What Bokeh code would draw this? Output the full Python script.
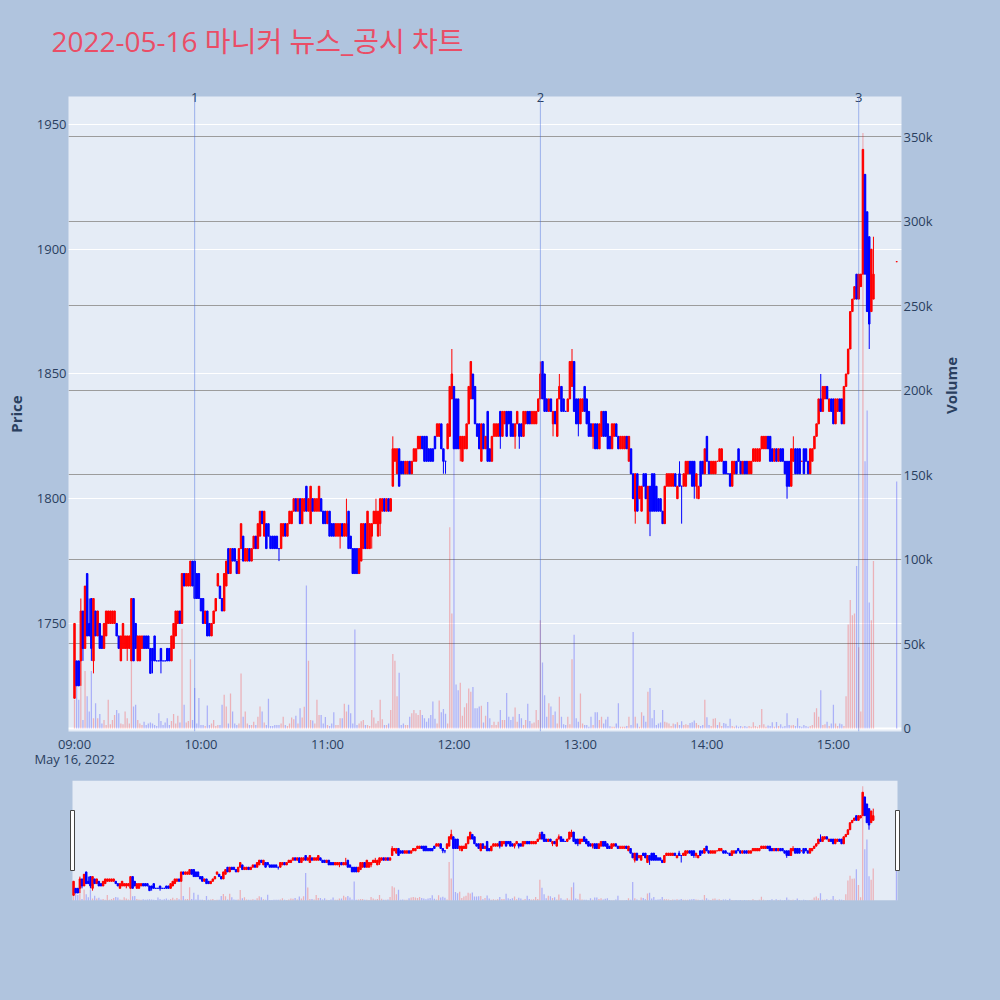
import math
from bokeh.plotting import figure
from bokeh.models import (Range1d, LinearAxis, FixedTicker, ColumnDataSource, Span,
                          BoxAnnotation, Grid)
from bokeh.layouts import column
from bokeh.embed import file_html
from bokeh.resources import INLINE

# ---------------- data ----------------
title_text = "2022-05-16 마니커 뉴스_공시 차트"
date_text = "May 16, 2022"
hour_labels = ["09:00", "10:00", "11:00", "12:00", "13:00", "14:00", "15:00"]
price_ticks = [1750, 1800, 1850, 1900, 1950]
volume_ticks = [0, 50000, 100000, 150000, 200000, 250000, 300000, 350000]
volume_tick_labels = ["0", "50k", "100k", "150k", "200k", "250k", "300k", "350k"]
news_times = ["09:57", "12:41", "15:12"]
news_labels = ["1", "2", "3"]
first_bar = "09:00"
last_continuous_bar = "15:19"
closing_bar = "15:30"

open_ = [
    1720, 1735, 1735, 1735, 1755, 1740, 1770, 1750, 1760, 1735,
    1755, 1745, 1750, 1745, 1740, 1745, 1750, 1750, 1750, 1750,
    1750, 1745, 1735, 1740, 1740, 1740, 1740, 1735, 1760, 1750,
    1735, 1735, 1740, 1745, 1745, 1745, 1740, 1740, 1745, 1735,
    1735, 1740, 1735, 1735, 1740, 1740, 1735, 1740, 1745, 1750,
    1755, 1750, 1770, 1765, 1765, 1765, 1775, 1775, 1770, 1770,
    1760, 1760, 1750, 1755, 1750, 1745, 1750, 1755, 1765, 1765,
    1760, 1755, 1765, 1780, 1770, 1780, 1780, 1775, 1770, 1780,
    1785, 1775, 1775, 1780, 1775, 1780, 1785, 1780, 1785, 1795,
    1785, 1790, 1790, 1785, 1785, 1785, 1785, 1780, 1780, 1785,
    1790, 1785, 1790, 1790, 1795, 1800, 1795, 1800, 1790, 1795,
    1805, 1795, 1790, 1800, 1795, 1795, 1795, 1800, 1795, 1795,
    1790, 1795, 1790, 1790, 1785, 1785, 1785, 1790, 1785, 1785,
    1795, 1785, 1780, 1780, 1780, 1770, 1775, 1780, 1790, 1780,
    1780, 1785, 1790, 1790, 1785, 1790, 1795, 1800, 1795, 1800,
    1795, 1805, 1815, 1810, 1820, 1815, 1815, 1810, 1810, 1815,
    1810, 1815, 1815, 1820, 1820, 1825, 1825, 1825, 1820, 1820,
    1820, 1825, 1825, 1825, 1830, 1820, 1815, 1820, 1825, 1840,
    1845, 1840, 1840, 1820, 1815, 1820, 1820, 1830, 1840, 1850,
    1845, 1830, 1830, 1815, 1830, 1820, 1835, 1820, 1815, 1825,
    1825, 1825, 1835, 1825, 1830, 1835, 1835, 1835, 1830, 1825,
    1830, 1830, 1830, 1825, 1830, 1835, 1835, 1830, 1830, 1830,
    1835, 1840, 1855, 1850, 1840, 1835, 1840, 1830, 1835, 1825,
    1840, 1845, 1840, 1835, 1835, 1840, 1845, 1855, 1840, 1840,
    1830, 1835, 1845, 1840, 1835, 1830, 1825, 1830, 1830, 1820,
    1825, 1835, 1835, 1830, 1825, 1820, 1825, 1830, 1825, 1820,
    1820, 1820, 1825, 1815, 1820, 1810, 1795, 1810, 1800, 1795,
    1810, 1810, 1790, 1805, 1810, 1810, 1805, 1800, 1800, 1795,
    1790, 1805, 1805, 1805, 1805, 1810, 1800, 1810, 1805, 1805,
    1805, 1810, 1815, 1815, 1815, 1805, 1800, 1815, 1815, 1810,
    1825, 1815, 1810, 1810, 1810, 1815, 1815, 1815, 1815, 1815,
    1810, 1810, 1805, 1810, 1815, 1820, 1815, 1810, 1815, 1815,
    1810, 1810, 1815, 1815, 1815, 1815, 1820, 1820, 1820, 1825,
    1825, 1820, 1815, 1820, 1815, 1820, 1820, 1815, 1815, 1815,
    1805, 1815, 1820, 1820, 1820, 1815, 1820, 1820, 1815, 1810,
    1815, 1820, 1825, 1830, 1840, 1835, 1840, 1845, 1835, 1840,
    1840, 1830, 1835, 1840, 1840, 1830, 1845, 1850, 1860, 1875,
    1880, 1890, 1880, 1885, 1890, 1930, 1915, 1905, 1875, 1880,
    1895,
]

high = [
    1750, 1735, 1735, 1760, 1755, 1765, 1770, 1760, 1760, 1760,
    1755, 1755, 1750, 1745, 1750, 1755, 1755, 1755, 1755, 1755,
    1750, 1745, 1745, 1750, 1745, 1745, 1745, 1760, 1760, 1750,
    1745, 1745, 1745, 1745, 1745, 1745, 1740, 1740, 1745, 1735,
    1735, 1740, 1735, 1735, 1740, 1740, 1745, 1750, 1755, 1755,
    1755, 1770, 1770, 1770, 1770, 1775, 1775, 1775, 1770, 1770,
    1760, 1760, 1755, 1755, 1750, 1750, 1755, 1760, 1770, 1765,
    1760, 1770, 1775, 1780, 1780, 1780, 1780, 1775, 1780, 1790,
    1785, 1780, 1780, 1780, 1780, 1785, 1785, 1790, 1795, 1795,
    1795, 1790, 1790, 1785, 1785, 1785, 1785, 1780, 1790, 1790,
    1790, 1790, 1795, 1795, 1800, 1800, 1800, 1800, 1800, 1800,
    1805, 1800, 1805, 1800, 1800, 1800, 1805, 1800, 1795, 1795,
    1795, 1795, 1790, 1790, 1790, 1790, 1790, 1790, 1790, 1800,
    1795, 1785, 1780, 1780, 1780, 1780, 1790, 1790, 1790, 1795,
    1790, 1790, 1795, 1800, 1795, 1800, 1800, 1800, 1800, 1800,
    1800, 1825, 1820, 1820, 1820, 1815, 1815, 1815, 1815, 1815,
    1815, 1820, 1820, 1825, 1825, 1825, 1825, 1825, 1820, 1820,
    1820, 1825, 1830, 1830, 1830, 1820, 1815, 1830, 1845, 1860,
    1845, 1840, 1840, 1825, 1825, 1825, 1830, 1845, 1855, 1850,
    1845, 1830, 1830, 1830, 1830, 1825, 1835, 1820, 1825, 1830,
    1830, 1830, 1835, 1835, 1835, 1835, 1835, 1835, 1830, 1830,
    1835, 1830, 1830, 1835, 1835, 1835, 1835, 1835, 1835, 1835,
    1840, 1855, 1855, 1850, 1840, 1840, 1840, 1835, 1835, 1840,
    1850, 1845, 1840, 1835, 1840, 1855, 1860, 1855, 1840, 1840,
    1840, 1840, 1845, 1840, 1835, 1830, 1830, 1830, 1830, 1830,
    1835, 1835, 1835, 1830, 1825, 1830, 1830, 1830, 1825, 1825,
    1825, 1825, 1825, 1825, 1820, 1810, 1810, 1810, 1805, 1805,
    1810, 1810, 1805, 1805, 1810, 1810, 1805, 1800, 1800, 1795,
    1805, 1810, 1810, 1810, 1810, 1810, 1805, 1815, 1805, 1810,
    1815, 1815, 1815, 1815, 1815, 1810, 1805, 1815, 1815, 1820,
    1825, 1815, 1815, 1815, 1815, 1815, 1820, 1820, 1815, 1815,
    1810, 1810, 1815, 1815, 1815, 1820, 1815, 1815, 1815, 1815,
    1815, 1815, 1820, 1820, 1820, 1820, 1825, 1825, 1825, 1825,
    1825, 1820, 1820, 1820, 1820, 1820, 1820, 1815, 1815, 1815,
    1820, 1825, 1820, 1820, 1820, 1815, 1820, 1820, 1815, 1820,
    1820, 1825, 1830, 1840, 1850, 1845, 1845, 1845, 1840, 1840,
    1840, 1840, 1840, 1840, 1840, 1845, 1850, 1860, 1875, 1880,
    1885, 1890, 1890, 1890, 1940, 1930, 1915, 1905, 1900, 1905,
    1895,
]

low = [
    1720, 1725, 1725, 1725, 1735, 1740, 1745, 1745, 1735, 1730,
    1745, 1745, 1740, 1740, 1740, 1745, 1750, 1750, 1750, 1750,
    1745, 1740, 1735, 1740, 1740, 1735, 1740, 1735, 1735, 1740,
    1735, 1735, 1740, 1740, 1740, 1740, 1730, 1730, 1735, 1735,
    1735, 1730, 1735, 1735, 1735, 1735, 1735, 1740, 1745, 1750,
    1750, 1750, 1765, 1765, 1765, 1765, 1765, 1760, 1760, 1760,
    1755, 1750, 1750, 1745, 1745, 1745, 1750, 1755, 1765, 1760,
    1755, 1755, 1765, 1770, 1770, 1775, 1775, 1770, 1770, 1780,
    1775, 1775, 1775, 1775, 1775, 1780, 1780, 1780, 1785, 1790,
    1785, 1780, 1785, 1780, 1780, 1780, 1780, 1775, 1780, 1785,
    1785, 1785, 1790, 1790, 1795, 1795, 1795, 1790, 1790, 1795,
    1795, 1795, 1790, 1795, 1795, 1795, 1795, 1795, 1790, 1790,
    1790, 1785, 1785, 1785, 1785, 1785, 1780, 1785, 1785, 1785,
    1780, 1780, 1770, 1770, 1770, 1770, 1775, 1780, 1780, 1780,
    1780, 1780, 1790, 1790, 1785, 1785, 1795, 1795, 1795, 1795,
    1795, 1805, 1815, 1810, 1805, 1810, 1810, 1810, 1810, 1810,
    1810, 1815, 1815, 1820, 1820, 1820, 1815, 1815, 1815, 1815,
    1815, 1820, 1825, 1825, 1820, 1810, 1810, 1820, 1825, 1840,
    1820, 1820, 1820, 1815, 1815, 1820, 1820, 1830, 1840, 1840,
    1830, 1825, 1820, 1815, 1820, 1820, 1815, 1815, 1815, 1825,
    1825, 1825, 1820, 1825, 1830, 1825, 1830, 1825, 1825, 1820,
    1830, 1820, 1825, 1825, 1830, 1830, 1830, 1830, 1830, 1830,
    1835, 1840, 1840, 1835, 1835, 1835, 1835, 1825, 1830, 1825,
    1840, 1835, 1835, 1835, 1835, 1840, 1845, 1835, 1830, 1825,
    1830, 1835, 1835, 1830, 1825, 1825, 1820, 1820, 1820, 1820,
    1825, 1825, 1825, 1820, 1820, 1820, 1825, 1825, 1820, 1820,
    1820, 1820, 1820, 1815, 1810, 1800, 1790, 1795, 1800, 1795,
    1805, 1800, 1790, 1785, 1795, 1795, 1795, 1795, 1795, 1790,
    1790, 1805, 1805, 1805, 1805, 1805, 1800, 1805, 1790, 1805,
    1805, 1810, 1810, 1805, 1800, 1800, 1800, 1805, 1810, 1810,
    1815, 1810, 1810, 1810, 1810, 1815, 1815, 1815, 1810, 1810,
    1810, 1805, 1805, 1810, 1810, 1815, 1810, 1810, 1810, 1810,
    1810, 1810, 1815, 1815, 1815, 1815, 1820, 1820, 1820, 1820,
    1815, 1815, 1815, 1815, 1815, 1815, 1815, 1810, 1800, 1805,
    1805, 1815, 1810, 1810, 1810, 1815, 1810, 1815, 1810, 1810,
    1815, 1820, 1825, 1830, 1835, 1835, 1840, 1840, 1835, 1835,
    1830, 1830, 1835, 1835, 1830, 1830, 1845, 1850, 1860, 1875,
    1880, 1880, 1880, 1885, 1890, 1890, 1875, 1860, 1875, 1880,
    1895,
]

close = [
    1750, 1725, 1725, 1755, 1740, 1765, 1745, 1745, 1740, 1760,
    1745, 1755, 1740, 1740, 1750, 1755, 1755, 1755, 1755, 1755,
    1745, 1740, 1745, 1750, 1745, 1745, 1745, 1760, 1735, 1740,
    1745, 1745, 1745, 1740, 1740, 1740, 1730, 1735, 1735, 1735,
    1735, 1735, 1735, 1735, 1735, 1735, 1745, 1750, 1755, 1755,
    1750, 1770, 1765, 1770, 1770, 1775, 1765, 1760, 1760, 1760,
    1755, 1750, 1755, 1745, 1745, 1750, 1755, 1760, 1770, 1760,
    1755, 1770, 1775, 1770, 1780, 1775, 1775, 1770, 1780, 1790,
    1775, 1780, 1780, 1775, 1780, 1785, 1780, 1790, 1795, 1790,
    1795, 1780, 1785, 1780, 1780, 1780, 1780, 1780, 1790, 1790,
    1785, 1790, 1795, 1795, 1800, 1795, 1800, 1790, 1800, 1800,
    1795, 1800, 1805, 1795, 1800, 1800, 1805, 1795, 1790, 1790,
    1795, 1785, 1785, 1785, 1790, 1790, 1790, 1785, 1790, 1790,
    1780, 1780, 1770, 1770, 1770, 1780, 1790, 1790, 1780, 1795,
    1790, 1790, 1795, 1795, 1795, 1800, 1800, 1795, 1800, 1795,
    1800, 1820, 1820, 1820, 1805, 1810, 1810, 1815, 1815, 1810,
    1815, 1820, 1820, 1825, 1825, 1820, 1815, 1815, 1815, 1815,
    1815, 1820, 1830, 1830, 1820, 1815, 1815, 1830, 1845, 1850,
    1820, 1820, 1820, 1825, 1825, 1825, 1830, 1845, 1855, 1840,
    1830, 1825, 1820, 1830, 1820, 1825, 1815, 1815, 1825, 1830,
    1830, 1830, 1825, 1835, 1835, 1825, 1830, 1825, 1825, 1830,
    1835, 1825, 1825, 1835, 1835, 1830, 1830, 1835, 1835, 1835,
    1840, 1850, 1840, 1835, 1835, 1840, 1835, 1835, 1830, 1840,
    1845, 1835, 1835, 1835, 1840, 1855, 1855, 1835, 1830, 1830,
    1840, 1840, 1835, 1830, 1825, 1825, 1830, 1820, 1820, 1830,
    1835, 1825, 1825, 1820, 1820, 1830, 1830, 1825, 1820, 1825,
    1825, 1825, 1820, 1825, 1810, 1800, 1810, 1795, 1805, 1805,
    1805, 1800, 1805, 1795, 1795, 1795, 1795, 1795, 1795, 1790,
    1805, 1810, 1810, 1810, 1810, 1805, 1805, 1805, 1805, 1810,
    1815, 1815, 1810, 1805, 1805, 1810, 1805, 1805, 1810, 1820,
    1815, 1810, 1815, 1815, 1815, 1815, 1820, 1820, 1810, 1810,
    1810, 1805, 1815, 1815, 1810, 1815, 1810, 1815, 1810, 1810,
    1815, 1815, 1820, 1820, 1820, 1820, 1825, 1825, 1825, 1820,
    1815, 1815, 1820, 1815, 1820, 1815, 1815, 1810, 1805, 1805,
    1820, 1820, 1810, 1810, 1810, 1815, 1810, 1815, 1810, 1820,
    1820, 1825, 1830, 1840, 1835, 1845, 1845, 1840, 1840, 1835,
    1830, 1840, 1840, 1835, 1830, 1845, 1850, 1860, 1875, 1880,
    1885, 1880, 1890, 1890, 1940, 1890, 1875, 1870, 1900, 1890,
    1895,
]

volume_k = [
    17, 25, 17, 44, 5, 34, 19, 10, 34, 6,
    15, 6, 8.5, 3, 5, 2, 17, 2.5, 5, 8,
    11, 9, 3, 2.5, 10, 6, 3, 42, 13, 14,
    5, 3, 2, 4, 2, 3, 3.5, 3, 2, 1.5,
    9, 4.5, 2, 3.5, 6, 2, 4.5, 8.5, 3, 7.5,
    3.5, 59, 14, 3.5, 4.5, 41, 5, 24, 3, 18,
    2, 2, 1.5, 13.6, 2, 3, 5, 1.5, 2, 2,
    14, 20, 13, 3, 20.7, 10, 3, 2, 3, 32.5,
    7, 10, 3, 2, 2, 4, 2, 7, 13, 10,
    3.5, 2, 17.6, 1.5, 1.5, 2, 2, 2, 3, 7,
    2, 1.5, 3, 6.5, 5.5, 7.5, 3, 12, 6.5, 12.8,
    84.5, 40, 5, 4.7, 3, 17, 8, 8, 3, 6.8,
    2, 1.5, 3, 9.6, 2, 2, 6, 6, 14.6, 10,
    14, 9, 3, 58.5, 2, 3, 4.3, 5, 2, 2,
    1.5, 11, 6.5, 3, 4.5, 17, 5.5, 2, 2, 3,
    11, 44, 40, 19, 33, 2, 3, 2, 2, 7,
    9, 11, 9, 8, 11, 8, 6, 4, 6, 8,
    16, 5.7, 3, 16.5, 9.6, 11.6, 8.7, 3, 119, 68,
    177, 26, 22.6, 27, 7.5, 12.5, 15, 23.6, 21.7, 24.6,
    12, 12, 13, 13.5, 3.5, 7.5, 15.6, 6, 2, 4,
    2, 4, 11, 5, 5, 21, 7, 5, 7, 12.4,
    4, 8.5, 6, 2, 5, 14.6, 4.5, 3, 3.5, 11,
    5, 64, 39, 19.6, 7, 15, 13, 8, 10, 3,
    18.7, 7, 2.5, 2, 7, 2.5, 41, 55.5, 6, 4,
    20.7, 3, 2, 2, 1, 7, 2, 9.6, 9.6, 5,
    7, 3, 5.3, 7, 1.4, 1, 1, 3, 15, 1,
    1, 1, 1.5, 7, 2, 57, 7, 3, 1, 9.6,
    7.5, 4, 21.7, 24, 6, 11, 2, 3, 3.5, 11,
    4, 3.5, 3, 1.5, 3, 2.5, 3.7, 2, 4.3, 2,
    2.5, 2, 3.2, 3.7, 4.7, 3.2, 2, 1.5, 2, 17,
    6.7, 2, 1.5, 5.7, 6, 2, 3.7, 1.5, 3.2, 2.8,
    1.5, 5.7, 1.5, 1, 1.8, 1, 1.5, 1, 1.5, 1,
    1.5, 1, 3.7, 1.5, 1, 2, 11.6, 2.5, 1, 1.8,
    1.5, 3.7, 1, 3.9, 1.5, 2.5, 1, 1.5, 9, 2,
    1.8, 2, 1.5, 6, 1.5, 1, 2, 1.5, 1, 1.5,
    2, 9.6, 12, 7, 22.6, 2, 2.5, 4, 1.5, 3,
    14, 3, 1.5, 3, 2.5, 1.5, 19, 61.5, 76, 67,
    68, 96, 48, 10, 352, 158, 188, 74.5, 64, 99,
    146,
]

# ---------------- style ----------------
PAGE_BG = "#b0c4de"
PLOT_BG = "#e5ecf6"
FONT_COLOR = "#2a3f5f"
TITLE_COLOR = "#ea4d66"
UP = "#ff0000"
DOWN = "#0000ff"
W = 1000
BL, BR = 68, 99          # left / right borders (frame spans 68..901)


def to_min(t):
    h, m = t.split(":")
    return (int(h) - 9) * 60 + int(m)


minutes = list(range(to_min(first_bar), to_min(last_continuous_bar) + 1)) + [to_min(closing_bar)]
assert len(minutes) == len(open_) == len(high) == len(low) == len(close) == len(volume_k), \
    (len(minutes), len(open_), len(high), len(low), len(close), len(volume_k))

# candle direction (plotly rule: equal open/close -> compare with previous close)
inc = []
state = True
prev_c = None
for o, c in zip(open_, close):
    if c != o:
        state = c > o
    elif prev_c is not None and c != prev_c:
        state = c > prev_c
    inc.append(state)
    prev_c = c

src = ColumnDataSource(dict(
    x=minutes, o=open_, h=high, l=low, c=close,
    top=[max(o, c) for o, c in zip(open_, close)],
    bot=[min(o, c) for o, c in zip(open_, close)],
    color=[UP if u else DOWN for u in inc],
    vol=[v * 1000 for v in volume_k],
    vcolor=[UP if c > o else DOWN for o, c in zip(open_, close)],
))

# ---------------- header (title) ----------------
HEAD_H = 82
head = figure(width=W, height=HEAD_H, title=title_text,
              output_backend="svg", toolbar_location=None,
              min_border_left=BL, min_border_right=BR, min_border_top=0, min_border_bottom=0,
              x_axis_location=None, y_axis_location=None,
              background_fill_color=PAGE_BG, border_fill_color=PAGE_BG, outline_line_color=None)
head.grid.visible = False
head.title.align = "left"
head.title.offset = -17
head.title.standoff = 38
head.title.text_font = "Open Sans, Noto Sans CJK KR"
head.title.text_font_size = "28px"
head.title.text_font_style = "normal"
head.title.text_color = TITLE_COLOR

# ---------------- main chart ----------------
p = figure(width=W, height=778 - HEAD_H, x_range=Range1d(-2.85, 392.3),
           y_range=Range1d(1706.7, 1961.2),
           output_backend="svg", toolbar_location=None,
           min_border_left=BL, min_border_right=BR, min_border_top=96 - HEAD_H,
           min_border_bottom=47,
           background_fill_color=PLOT_BG, border_fill_color=PAGE_BG, outline_line_color=None)
p.extra_y_ranges = {"vol": Range1d(-1774, 373650)}
xax = p.xaxis[0]
yax = p.yaxis[0]

vax = LinearAxis(y_range_name="vol", ticker=FixedTicker(ticks=volume_ticks),
                 major_label_overrides=dict(zip(volume_ticks, volume_tick_labels)))
p.add_layout(vax, "right")

nax = LinearAxis(ticker=FixedTicker(ticks=[to_min(t) for t in news_times]),
                 major_label_overrides={to_min(t): lab for t, lab in zip(news_times, news_labels)})
p.add_layout(nax, "above")

x_over = {to_min(h): h for h in hour_labels}
x_over[to_min(first_bar)] = first_bar + "\n" + date_text
xax.ticker = FixedTicker(ticks=[to_min(h) for h in hour_labels])
xax.major_label_overrides = x_over
xax.major_label_text_line_height = 0.85
yax.ticker = FixedTicker(ticks=price_ticks)

for ax in [xax, yax, vax, nax]:
    ax.axis_line_color = None
    ax.major_tick_line_color = None
    ax.minor_tick_line_color = None
    ax.major_tick_out = 0
    ax.major_tick_in = 0
    ax.major_label_text_font = "Open Sans"
    ax.major_label_text_font_size = "13px"
    ax.major_label_text_color = FONT_COLOR
yax.major_label_standoff = 2
vax.major_label_standoff = 2
xax.major_label_standoff = 3
nax.major_label_standoff = -5

for ax, lab, so in [(yax, "Price", 8), (vax, "Volume", 15)]:
    ax.axis_label = lab
    ax.axis_label_text_font = "Open Sans"
    ax.axis_label_text_font_style = "bold"
    ax.axis_label_text_font_size = "15px"
    ax.axis_label_text_color = FONT_COLOR
    ax.axis_label_standoff = so
try:
    vax.axis_label_orientation = math.pi / 2
except Exception:
    pass

p.xgrid.visible = False
p.ygrid.ticker = FixedTicker(ticks=price_ticks)
p.ygrid.grid_line_color = "white"
p.ygrid.grid_line_width = 1
p.add_layout(Grid(dimension=1, ticker=FixedTicker(ticks=volume_ticks[1:]), y_range_name="vol",
                  grid_line_color="#9c9c9c", grid_line_width=1))
p.add_layout(Grid(dimension=1, ticker=FixedTicker(ticks=volume_ticks[:1]), y_range_name="vol",
                  grid_line_color="white", grid_line_width=2))

p.vbar(x="x", top="vol", bottom=0, width=0.6, y_range_name="vol", source=src,
       fill_color="vcolor", fill_alpha=0.25, line_color=None)
p.segment(x0="x", y0="h", x1="x", y1="l", line_color="color", line_width=1, source=src)
p.vbar(x="x", top="top", bottom="bot", width=0.7, fill_color="color", line_color="color",
       line_width=1, source=src)

for t in news_times:
    p.add_layout(Span(location=to_min(t), dimension="height", line_color="royalblue",
                      line_alpha=0.45, line_width=1))

# ---------------- range slider ----------------
lo_m = minutes[0] - 0.5
hi_m = minutes[-1] + 0.5
px_per_min = 825.0 / (hi_m - lo_m)
s = figure(width=W, height=222,
           x_range=Range1d(lo_m - 4 / px_per_min, hi_m + 4 / px_per_min),
           y_range=Range1d(1709, 1965),
           output_backend="svg", toolbar_location=None,
           min_border_left=BL, min_border_right=BR, min_border_top=2, min_border_bottom=100,
           background_fill_color=PAGE_BG, border_fill_color=PAGE_BG, outline_line_color=None,
           x_axis_location=None, y_axis_location=None)
s.grid.visible = False
s.extra_y_ranges = {"vol": Range1d(0, 370000)}
s.add_layout(BoxAnnotation(left=lo_m, right=hi_m, fill_color=PLOT_BG, fill_alpha=1.0,
                           line_color=None, level="underlay"))
s.vbar(x="x", top="vol", bottom=0, width=0.6, y_range_name="vol", source=src,
       fill_color="vcolor", fill_alpha=0.25, line_color=None)
s.segment(x0="x", y0="h", x1="x", y1="l", line_color="color", line_width=1, source=src)
s.vbar(x="x", top="top", bottom="bot", width=0.7, fill_color="color", line_color="color",
       line_width=1, source=src)
mid = (1709 + 1965) / 2
s.rect(x=[lo_m, hi_m], y=[mid, mid], width=4, height=60, width_units="screen",
       height_units="screen", fill_color="white", line_color="#444444", line_width=1)

layout = column(head, p, s)
html = file_html(layout, INLINE, title="chart")
html = html.replace("</head>", "<style>html, body { background-color: #b0c4de; }</style></head>", 1)
open("out.html", "w").write(html)
